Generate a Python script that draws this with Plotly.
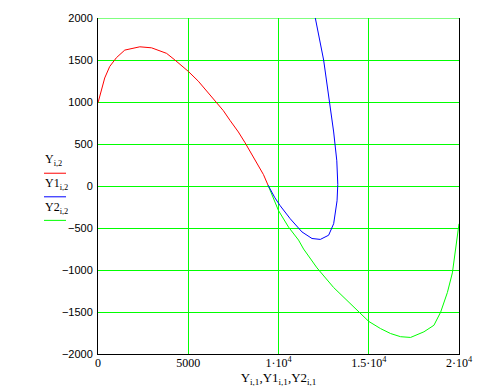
import plotly.graph_objects as go

# ---- data ----
red_x = [0, 60, 189, 372, 650, 1022, 1483, 2317, 2967, 3800, 4261, 5000, 5556, 6022,
         6483, 6944, 7317, 7778, 8150, 8706, 9167, 9420]
red_y = [990, 1040, 1142, 1286, 1423, 1528, 1618, 1657, 1645, 1579, 1500, 1365, 1248, 1131,
         1005, 897, 780, 643, 514, 312, 136, 10]

blue_x = [9420, 9800, 10094, 10650, 11300, 11856, 12317, 12778, 13056, 13244, 13285,
          13230, 13056, 12833, 12500, 12039]
blue_y = [10, -140, -235, -390, -547, -625, -636, -586, -449, -176, 19,
          300, 643, 994, 1500, 2000]

green_x = [9420, 9633, 10000, 10556, 11111, 11389, 12133, 13056, 14356, 15000, 15650,
           16206, 16761, 17317, 18056, 18611, 18983, 19356, 19633, 19817, 20000]
green_y = [10, -98, -293, -489, -644, -750, -975, -1209, -1483, -1612, -1697,
           -1756, -1794, -1803, -1736, -1658, -1502, -1268, -1034, -761, -450]

x_tickvals = [0, 5000, 10000, 15000, 20000]
x_ticktext = ["0", "5000", "1·10<sup>4</sup>", "1.5·10<sup>4</sup>", "2·10<sup>4</sup>"]
y_tickvals = [-2000, -1500, -1000, -500, 0, 500, 1000, 1500, 2000]

legend_labels = ["Y<sub>i,2</sub>", "Y1<sub>i,2</sub>", "Y2<sub>i,2</sub>"]
legend_colors = ["#ff0000", "#0000ff", "#00ff00"]
x_title = "Y<sub>i,1</sub>,Y1<sub>i,1</sub>,Y2<sub>i,1</sub>"

# ---- figure ----
fig = go.Figure()
fig.add_trace(go.Scatter(x=red_x, y=red_y, mode="lines",
                         line=dict(color="#ff0000", width=1), showlegend=False))
fig.add_trace(go.Scatter(x=green_x, y=green_y, mode="lines",
                         line=dict(color="#00ff00", width=1), showlegend=False))
fig.add_trace(go.Scatter(x=blue_x, y=blue_y, mode="lines",
                         line=dict(color="#0000ff", width=1), showlegend=False))

L, R, T, B = 98, 29, 14, 36
W, H = 488, 392
pw, ph = W - L - R, H - T - B

def px2paper_x(px):
    return (px - L) / pw

def px2paper_y(py):
    return (H - B - py) / ph

serif = "Liberation Serif, Times New Roman, serif"
sans = "Liberation Sans, Arial, sans-serif"

fig.update_layout(
    width=W, height=H,
    margin=dict(l=L, r=R, t=T, b=B, pad=0),
    paper_bgcolor="white", plot_bgcolor="white",
    xaxis=dict(range=[0, 20000], tickvals=x_tickvals, ticktext=x_ticktext,
               showgrid=True, gridcolor="#00ff00", gridwidth=1,
               showline=True, linecolor="black", linewidth=1, mirror=False,
               zeroline=False, ticks="", ticklabelstandoff=-2,
               tickfont=dict(family=serif, size=12, color="black"),
               title=dict(text=x_title, font=dict(family=serif, size=13, color="black"),
                          standoff=0)),
    yaxis=dict(range=[-2000, 2000], tickvals=y_tickvals,
               showgrid=True, gridcolor="#00ff00", gridwidth=1,
               showline=True, linecolor="black", linewidth=1, mirror=True,
               zeroline=False, ticks="", ticklabelstandoff=2,
               tickfont=dict(family=sans, size=11, color="black")),
)

# top grid line (green) at 2000
fig.add_shape(type="line", xref="paper", yref="y", x0=0, x1=1, y0=2000, y1=2000,
              line=dict(color="#00ff00", width=1), layer="below")

# legend built from annotations + line samples
text_py = [159, 183, 207]
line_py = [172, 196, 220]
for lab, col, tpy, lpy in zip(legend_labels, legend_colors, text_py, line_py):
    fig.add_annotation(xref="paper", yref="paper", x=px2paper_x(43), y=px2paper_y(tpy),
                       text=lab, showarrow=False, xanchor="left", yanchor="middle",
                       font=dict(family=serif, size=12, color="black"))
    fig.add_shape(type="line", xref="paper", yref="paper",
                  x0=px2paper_x(44), x1=px2paper_x(66),
                  y0=px2paper_y(lpy), y1=px2paper_y(lpy),
                  line=dict(color=col, width=1))

fig.write_html("out.html")
